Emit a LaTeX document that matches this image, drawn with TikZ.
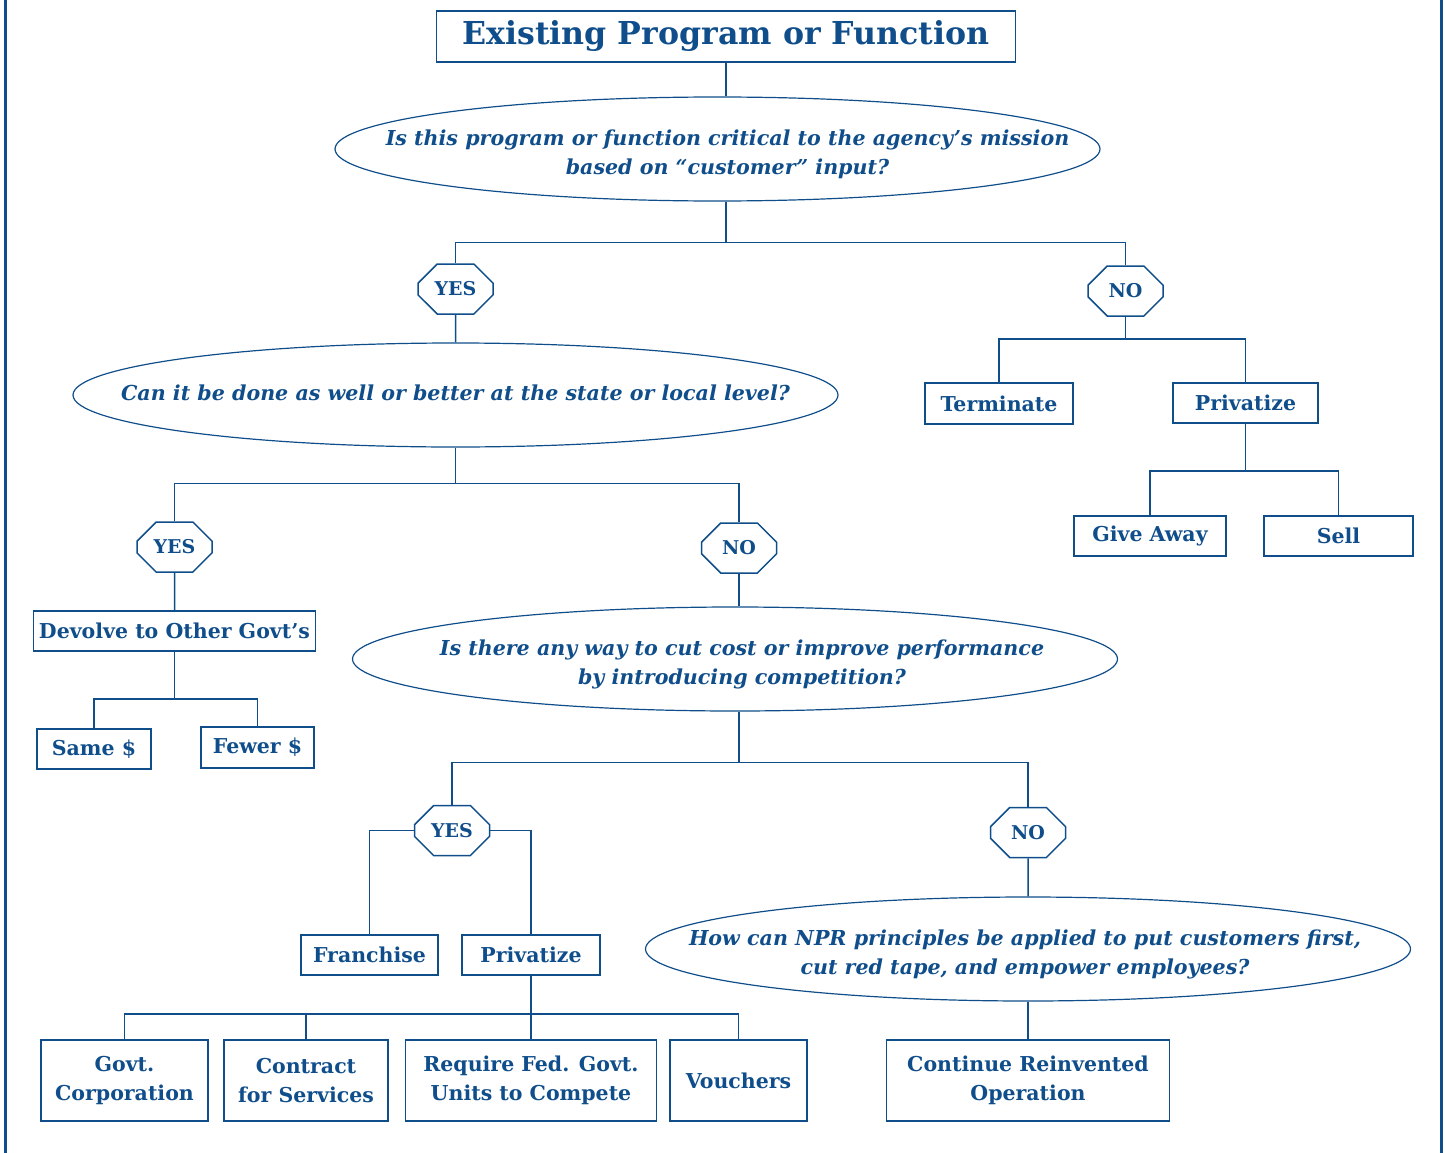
\documentclass[tikz,border=0pt]{standalone}
\usepackage{fontspec}
\setmainfont{DejaVu Serif}
\usetikzlibrary{calc,shapes.geometric,shapes.misc}
\definecolor{nprblue}{RGB}{16,78,139}
\tikzstyle{frame} = [draw=nprblue, line width=1.5pt, text=nprblue, font=\bfseries\fontsize{20.5}{29}\selectfont, align=center, inner sep=0pt]
\tikzstyle{question} = [ellipse, draw=nprblue, line width=1.2pt, inner sep=0pt, minimum width=765, minimum height=104]
\tikzstyle{asks} = [text=nprblue, font=\bfseries\itshape\fontsize{20.6}{29}\selectfont, align=center, inner sep=0pt]
\tikzstyle{answer} = [chamfered rectangle, chamfered rectangle xsep=12pt, chamfered rectangle ysep=12pt, draw=nprblue, line width=1.5pt, text=nprblue, font=\bfseries\fontsize{19}{22}\selectfont, inner sep=0pt, minimum width=75, minimum height=50]
\tikzstyle{link} = [draw=nprblue, line width=1.5pt]

\begin{document}
\begin{tikzpicture}[x=1pt,y=-1pt]
    \useasboundingbox (0,0) rectangle (1445,1153);
    \draw [nprblue, line width=3pt] (5,0) -- (5,1153) (1441,0) -- (1441,1153);
    % first question
    \node [frame, minimum width=579, minimum height=51, font=\bfseries\fontsize{31.6}{36}\selectfont] (title) at (726,36.5) {Existing Program or Function};
    \node [question, label={[asks, xshift=10pt, yshift=-5pt]center:Is this program or function critical to the agency’s mission\\based on “customer” input?}] (q1) at (717.5,149) {};
    \node [answer] (yes1) at (455.5,289) {YES};
    \node [answer] (no1) at (1125.5,291) {NO};
    \draw [link] (title.south) -- (title.south |- q1.north);
    \draw [link] (q1.south -| title.south) -- ++(0,41) coordinate (j1);
    \draw [link] (yes1.north) |- (j1) -| (no1.north);
    % not critical
    \node [frame, minimum width=148, minimum height=41] (term) at (999,403.5) {Terminate};
    \node [frame, minimum width=145, minimum height=40] (sale) at (1245.5,403) {Privatize};
    \node [frame, minimum width=152, minimum height=40] (gift) at (1150,536) {Give Away};
    \node [frame, minimum width=149, minimum height=40] (sell) at (1338.5,536) {Sell};
    \draw [link] (no1.south) -- ++(0,22) coordinate (j2);
    \draw [link] (term.north) |- (j2) -| (sale.north);
    \draw [link] (sale.south) -- ++(0,47) coordinate (j3);
    \draw [link] (gift.north) |- (j3) -| (sell.north);
    % second question
    \node [question, label={[asks, yshift=2pt]center:Can it be done as well or better at the state or local level?}] (q2) at (455.5,395) {};
    \node [answer] (yes2) at (174.5,547) {YES};
    \node [answer] (no2) at (739,548) {NO};
    \draw [link] (yes1) -- (q2);
    \draw [link] (q2.south) -- ++(0,36) coordinate (j4);
    \draw [link] (yes2.north) |- (j4) -| (no2.north);
    \node [frame, minimum width=282, minimum height=40] (devolve) at (174.5,631) {Devolve to Other Govt’s};
    \node [frame, minimum width=114, minimum height=40] (same) at (94,749) {Same \$};
    \node [frame, minimum width=113, minimum height=41] (fewer) at (257.5,747.5) {Fewer \$};
    \draw [link] (yes2) -- (devolve);
    \draw [link] (devolve.south) -- ++(0,47) coordinate (j5);
    \draw [link] (same.north) |- (j5) -| (fewer.north);
    % third question
    \node [question, label={[asks, xshift=7pt, yshift=-5pt]center:Is there any way to cut cost or improve performance\\by introducing competition?}] (q3) at (735,659) {};
    \node [answer] (yes3) at (452,830.5) {YES};
    \node [answer] (no3) at (1028,832.5) {NO};
    \draw [link] (no2.south) -- (no2.south |- q3.north);
    \draw [link] (q3.south -| no2.south) -- ++(0,51) coordinate (j6);
    \draw [link] (yes3.north) |- (j6) -| (no3.north);
    \node [frame, minimum width=137, minimum height=40] (franchise) at (369.5,955) {Franchise};
    \node [frame, minimum width=138, minimum height=40] (market) at (531,955) {Privatize};
    \draw [link] (yes3.west) -| (franchise.north);
    \draw [link] (yes3.east) -| (market.north);
    \node [frame, minimum width=167, minimum height=81] (corp) at (124.5,1080.5) {Govt.\\Corporation};
    \node [frame, minimum width=164, minimum height=81] (contract) at (306,1080.5) {Contract\\for Services};
    \node [frame, minimum width=251, minimum height=81] (compete) at (531,1080.5) {Require Fed. Govt.\\Units to Compete};
    \node [frame, minimum width=137, minimum height=81] (voucher) at (738.5,1080.5) {Vouchers};
    \draw [link] (market) -- (compete);
    \coordinate (j7) at ($(market.south)+(0,38)$);
    \draw [link] (corp.north) |- (j7) -| (voucher.north);
    \draw [link] (contract.north) -- (contract.north |- j7);
    % fourth question
    \node [question, label={[asks, xshift=-3pt, yshift=-5pt]center:How can NPR principles be applied to put customers first,\\cut red tape, and empower employees?}] (q4) at (1028,949) {};
    \node [frame, minimum width=283, minimum height=81] (reinvent) at (1028,1080.5) {Continue Reinvented\\Operation};
    \draw [link] (no3) -- (q4);
    \draw [link] (q4) -- (reinvent);
\end{tikzpicture}
\end{document}
